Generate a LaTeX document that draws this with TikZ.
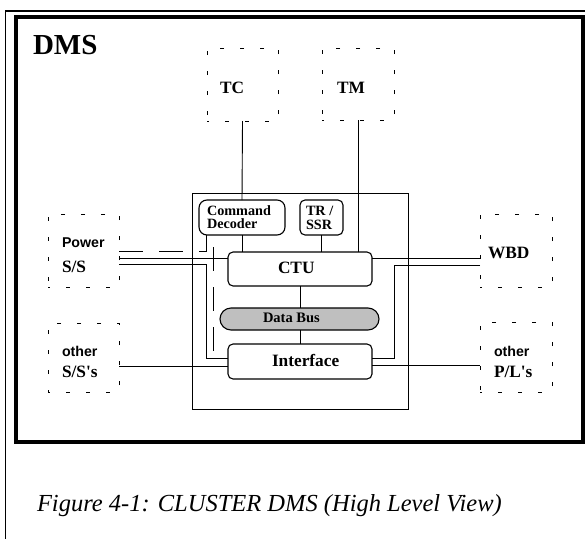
\documentclass[tikz,border=0pt]{standalone}
\usepackage{fontspec}
\setmainfont{Liberation Serif}
\newfontfamily\hvfont{Liberation Sans}
\begin{document}
\begin{tikzpicture}[x=1pt,y=-1pt,
  every node/.style={inner sep=0pt, outer sep=0pt},
  ext/.style={draw, line width=0.9pt, dash pattern=on 4pt off 16pt, dash phase=2pt},
  unit/.style={draw, line width=1.1pt, rounded corners=5pt},
  wire/.style={line width=0.9pt},
  pwire/.style={line width=0.9pt, dash pattern=on 24pt off 16pt},
  big/.style={font=\fontsize{17.3}{17}\selectfont\bfseries, anchor=base west},
  small/.style={font=\fontsize{14.2}{14}\selectfont\bfseries, anchor=base west},
  sans/.style={font=\fontsize{14.2}{14}\selectfont\hvfont\bfseries, anchor=base west}]
\useasboundingbox (0,0) rectangle (585,538);

% frames
\draw[line width=1.5pt] (5.5,540) -- (5.5,11) -- (590,11);
\draw[line width=4pt] (16,17) rectangle (583,442);
\node[anchor=base west, font=\fontsize{29}{29}\selectfont\bfseries] (dms) at (33,54) {DMS};

% external units
\node[ext, minimum width=71pt, minimum height=73pt] (tc)  at (242.5,84.5) {};
\node[ext, minimum width=72pt, minimum height=72pt] (tm)  at (358,84) {};
\node[ext, minimum width=71pt, minimum height=73pt] (pow) at (83.5,250.5) {};
\node[ext, minimum width=71pt, minimum height=69pt] (oss) at (83.5,357.5) {};
\node[ext, minimum width=72pt, minimum height=73pt] (wbd) at (516,250.5) {};
\node[ext, minimum width=72pt, minimum height=70pt] (opl) at (516,357) {};

\node[big] (tctext) at (220,93) {TC};
\node[big] (tmtext) at (337,93) {TM};
\node[sans] (powtext) at (62,247) {Power};
\node[big] (sstext) at (62,272) {S/S};
\node[sans] (osstext) at (62,356) {other};
\node[big] (ss2text) at (62,377) {S/S\textquotesingle s};
\node[big] (wbdtext) at (488,258) {WBD};
\node[sans] (opltext) at (494,356) {other};
\node[big] (pltext) at (494,377) {P/L\textquotesingle s};

% DMS internals
\draw[line width=0.7pt] (192,193) rectangle (408,409);
\node[unit, rounded corners=8pt, minimum width=86pt, minimum height=35pt] (dec) at (242,217.5) {};
\node[unit, minimum width=43pt, minimum height=35pt] (tr) at (321.5,217.5) {};
\node[unit, minimum width=144pt, minimum height=34pt] (ctu) at (300,269) {};
\node[draw, line width=1.1pt, fill=black!25, rounded corners=11pt, minimum width=159pt, minimum height=22pt] (bus) at (299.5,319) {};
\node[unit, minimum width=144pt, minimum height=35pt] (ifc) at (300,361.5) {};

\node[small] (cmd) at (207,215) {Command};
\node[small] (decd) at (207,228.5) {Decoder};
\node[small] (trt) at (306,215) {TR /};
\node[small] (ssrt) at (306,229) {SSR};
\node[big] (ctut) at (278,273) {CTU};
\node[font=\fontsize{14.5}{14.5}\selectfont\bfseries, anchor=base west] (bust) at (263,322) {Data Bus};
\node[big] (ifct) at (272,366) {Interface};

% connectors
\draw[wire] (tc.south) -- (dec.north);
\draw[wire] (dec.south) -- (dec.south |- ctu.north);
\draw[wire] (tr.south) -- (tr.south |- ctu.north);
\draw[wire] (tm.south) -- (tm.south |- ctu.north);
\draw[wire] (ctu.south) -- (ctu.south |- bus.north);
\draw[wire] (ctu.south |- bus.south) -- (ifc.north);

\draw[pwire] (pow.east |- 0,251) -| ([xshift=7pt]dec.south west);
\coordinate (tap) at (213,247);
\draw[pwire] (tap) |- (ifc.west |- 0,350);
\draw[wire] (pow.east |- 0,258) -- (ctu.west |- 0,258);
\draw[wire] (pow.east |- 0,264) -| (206,358) -- (ifc.west |- 0,358);
\draw[wire] (oss.east |- 0,366) -- (ifc.west |- 0,366);

\draw[wire] (ctu.east |- 0,258) -- (wbd.west |- 0,258);
\draw[wire] (wbd.west |- 0,265) -| (394,358) -- (ifc.east |- 0,358);
\draw[wire] (ifc.east |- 0,365) -- (opl.west |- 0,365);

% caption
\node[anchor=base west, font=\fontsize{24.5}{24.5}\selectfont\itshape] (cap) at (37,511) {Figure 4-1: CLUSTER DMS (High Level View)};
\end{tikzpicture}
\end{document}
